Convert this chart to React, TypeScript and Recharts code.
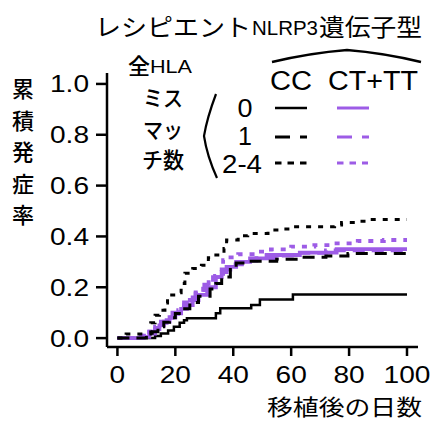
import React from 'react';
import { LineChart, Line, XAxis, YAxis } from 'recharts';

const BLACK = '#000000';
const PURPLE = '#9d5ce6';

const xTicks = [0, 20, 40, 60, 80, 100];
const yTicks = [0, 0.2, 0.4, 0.6, 0.8, 1.0];

// CC, HLA mismatch 0 (black solid)
const cc0Days = [0, 13, 15, 17.5, 19.5, 21.5, 23, 24, 34, 35.5, 46.2, 49.2, 60.6, 100];
const cc0Vals = [0, 0.008, 0.018, 0.03, 0.045, 0.06, 0.07, 0.078, 0.098, 0.117, 0.13, 0.152, 0.172, 0.172];

// CC, mismatch 1 (black dashed)
const cc1Days = [0, 10, 12, 14, 16, 18, 20, 22, 25, 28, 32, 34, 36, 39, 41, 45, 55, 63, 72, 79.6, 100];
const cc1Vals = [0, 0.01, 0.025, 0.045, 0.062, 0.08, 0.097, 0.115, 0.14, 0.165, 0.193, 0.215, 0.24, 0.27, 0.295, 0.302, 0.31, 0.318, 0.323, 0.333, 0.333];

// CC, mismatch 2-4 (black dotted)
const cc2Days = [0, 3, 11.5, 13, 14.5, 16.4, 17.3, 20.4, 22, 23.3, 26, 29, 31.4, 34, 36.8, 37.7, 41.7, 45, 52, 56, 61, 75, 77.4, 83, 86.6, 100];
const cc2Vals = [0, 0.016, 0.06, 0.09, 0.11, 0.138, 0.17, 0.178, 0.215, 0.255, 0.274, 0.287, 0.316, 0.327, 0.353, 0.386, 0.403, 0.412, 0.425, 0.429, 0.438, 0.445, 0.455, 0.46, 0.467, 0.467];

// CT+TT, mismatch 0 (purple solid)
const ct0Days = [0, 8, 11, 13, 14.5, 16, 18, 20, 22, 24, 26, 28, 31, 34, 36, 37.7, 41, 45.8, 51.5, 63, 75.7, 100];
const ct0Vals = [0, 0.005, 0.018, 0.035, 0.05, 0.065, 0.082, 0.097, 0.115, 0.13, 0.15, 0.17, 0.2, 0.24, 0.26, 0.28, 0.3, 0.314, 0.327, 0.336, 0.35, 0.35];

// CT+TT, mismatch 1 (purple dashed)
const ct1Days = [0, 9, 11, 13, 15, 17, 19, 21, 23, 25, 27, 30, 33, 36, 39, 43, 48, 55, 63, 72, 100];
const ct1Vals = [0, 0.01, 0.025, 0.045, 0.065, 0.085, 0.1, 0.12, 0.14, 0.16, 0.18, 0.21, 0.24, 0.27, 0.29, 0.305, 0.315, 0.325, 0.335, 0.345, 0.345];

// CT+TT, mismatch 2-4 (purple dotted)
const ct2Days = [0, 9, 11, 13, 15, 17, 19, 21, 23, 25, 27, 29.6, 31.5, 33.7, 36.5, 37.7, 41.7, 47.5, 53, 60, 68, 75, 83, 92, 100];
const ct2Vals = [0, 0.01, 0.025, 0.04, 0.06, 0.08, 0.095, 0.11, 0.13, 0.15, 0.175, 0.215, 0.23, 0.245, 0.307, 0.318, 0.33, 0.34, 0.349, 0.36, 0.366, 0.373, 0.382, 0.386, 0.386];

const toPts = (d: number[], v: number[]) => d.map((x, i) => ({ x, y: v[i] }));

const DASHED = '12 7';
const DOTTED = '5 7';

const series = [
  { key: 'cc0', data: toPts(cc0Days, cc0Vals), color: BLACK, dash: undefined as string | undefined, width: 2.5 },
  { key: 'ct0', data: toPts(ct0Days, ct0Vals), color: PURPLE, dash: undefined as string | undefined, width: 3.8 },
  { key: 'ct1', data: toPts(ct1Days, ct1Vals), color: PURPLE, dash: DASHED, width: 3.8 },
  { key: 'ct2', data: toPts(ct2Days, ct2Vals), color: PURPLE, dash: DOTTED, width: 3.8 },
  { key: 'cc1', data: toPts(cc1Days, cc1Vals), color: BLACK, dash: DASHED, width: 3 },
  { key: 'cc2', data: toPts(cc2Days, cc2Vals), color: BLACK, dash: DOTTED, width: 3 },
];

const SANS = '"Liberation Sans", Arial, sans-serif';
const CJK = '"Noto Sans CJK JP", sans-serif';
const CJKW = 500;

const yLabelChars = ['累', '積', '発', '症', '率'];

const XTick = (props: any) => {
  const { x, y, payload } = props;
  return (
    <g transform={`translate(${x},${y}) scale(1.17,1)`}>
      <text x={0} y={0} dy="0.71em" textAnchor="middle" fontSize={24} fontFamily={SANS} fill={BLACK}>
        {String(payload.value)}
      </text>
    </g>
  );
};

const YTick = (props: any) => {
  const { x, y, payload } = props;
  return (
    <g transform={`translate(${x},${y}) scale(1.17,1)`}>
      <text x={0} y={0} dy="0.355em" textAnchor="end" fontSize={24} fontFamily={SANS} fill={BLACK}>
        {Number(payload.value).toFixed(1)}
      </text>
    </g>
  );
};

export default function App() {
  return (
    <div style={{ position: 'absolute', left: 0, top: 0, width: 430, height: 421, background: '#fff' }}>
      <LineChart
        width={430}
        height={421}
        margin={{ top: 73, right: 12, bottom: 34, left: 0 }}
      >
        <XAxis
          type="number"
          dataKey="x"
          domain={[-3.6, 103.8]}
          allowDataOverflow
          ticks={xTicks}
          height={40}
          tickSize={9}
          tickMargin={10}
          axisLine={{ stroke: BLACK, strokeWidth: 2.5 }}
          tickLine={{ stroke: BLACK, strokeWidth: 2.5 }}
          tick={<XTick />}
          interval={0}
        />
        <YAxis
          type="number"
          dataKey="y"
          domain={[-0.035, 1.043]}
          allowDataOverflow
          ticks={yTicks}
          width={107}
          tickSize={11}
          tickMargin={7}
          axisLine={{ stroke: BLACK, strokeWidth: 2.5 }}
          tickLine={{ stroke: BLACK, strokeWidth: 2.5 }}
          tick={<YTick />}
          interval={0}
        />
        {series.map((s) => (
          <Line
            key={s.key}
            data={s.data}
            dataKey="y"
            type="stepAfter"
            stroke={s.color}
            strokeWidth={s.width}
            strokeDasharray={s.dash}
            dot={false}
            activeDot={false}
            isAnimationActive={false}
          />
        ))}
      </LineChart>
      <svg
        width={430}
        height={421}
        style={{ position: 'absolute', left: 0, top: 0, pointerEvents: 'none' }}
      >
        {/* Title */}
        <text x={95} y={36} fontSize={24} fontFamily={CJK} fill={BLACK} textLength={156} lengthAdjust="spacingAndGlyphs">レシピエント</text>
        <text x={252} y={35} fontSize={21} fontFamily={SANS} fill={BLACK} textLength={66} lengthAdjust="spacingAndGlyphs">NLRP3</text>
        <text x={319} y={36} fontSize={24} fontFamily={CJK} fill={BLACK} textLength={103} lengthAdjust="spacingAndGlyphs">遺伝子型</text>
        {/* Arc above genotype labels */}
        <path d="M272 62 Q310 53 347 50 Q384 53 421 62" fill="none" stroke={BLACK} strokeWidth={2.5} />
        <text x={291} y={90} fontSize={27} fontFamily={SANS} fill={BLACK} textAnchor="middle" textLength={42} lengthAdjust="spacingAndGlyphs">CC</text>
        <text x={373} y={90} fontSize={27} fontFamily={SANS} fill={BLACK} textAnchor="middle" textLength={90} lengthAdjust="spacingAndGlyphs">CT+TT</text>

        {/* HLA mismatch label */}
        <text x={128} y={74} fontSize={22} fontFamily={CJK} fontWeight={CJKW} fill={BLACK}>全</text>
        <text x={150} y={73} fontSize={18} fontFamily={SANS} fill={BLACK} textLength={42} lengthAdjust="spacingAndGlyphs">HLA</text>
        <text x={143} y={106} fontSize={22} fontFamily={CJK} fontWeight={CJKW} fill={BLACK} textLength={40} lengthAdjust="spacingAndGlyphs">ミス</text>
        <text x={143} y={138} fontSize={22} fontFamily={CJK} fontWeight={CJKW} fill={BLACK} textLength={40} lengthAdjust="spacingAndGlyphs">マッ</text>
        <text x={142} y={168} fontSize={22} fontFamily={CJK} fontWeight={CJKW} fill={BLACK} textLength={42} lengthAdjust="spacingAndGlyphs">チ数</text>
        <path d="M216 94 Q207 118 204 136 Q207 156 217 178" fill="none" stroke={BLACK} strokeWidth={2.2} />

        {/* Legend row labels */}
        <text x={245} y={117} fontSize={25} fontFamily={SANS} fill={BLACK} textAnchor="middle" textLength={15} lengthAdjust="spacingAndGlyphs">0</text>
        <text x={245} y={145} fontSize={25} fontFamily={SANS} fill={BLACK} textAnchor="middle">1</text>
        <text x={242} y={173} fontSize={25} fontFamily={SANS} fill={BLACK} textAnchor="middle" textLength={40} lengthAdjust="spacingAndGlyphs">2-4</text>

        {/* Legend line samples */}
        <line x1={275} y1={108} x2={307} y2={108} stroke={BLACK} strokeWidth={2.5} />
        <line x1={337} y1={108} x2={369} y2={108} stroke={PURPLE} strokeWidth={3} />
        <line x1={275} y1={137} x2={307} y2={137} stroke={BLACK} strokeWidth={3} strokeDasharray="15 10" />
        <line x1={337} y1={137} x2={369} y2={137} stroke={PURPLE} strokeWidth={3} strokeDasharray="15 10" />
        <line x1={275} y1={163} x2={307} y2={163} stroke={BLACK} strokeWidth={3} strokeDasharray="6.5 6" />
        <line x1={337} y1={163} x2={368} y2={163} stroke={PURPLE} strokeWidth={3} strokeDasharray="6.5 6" />

        {/* Y axis title, stacked vertically */}
        {yLabelChars.map((c, i) => (
          <text key={c} x={12} y={97 + i * 31.5} fontSize={22} fontFamily={CJK} fontWeight={CJKW} fill={BLACK}>{c}</text>
        ))}

        {/* X axis title */}
        <text x={267} y={415} fontSize={22} fontFamily={CJK} fill={BLACK} textLength={155} lengthAdjust="spacingAndGlyphs">移植後の日数</text>
      </svg>
    </div>
  );
}
